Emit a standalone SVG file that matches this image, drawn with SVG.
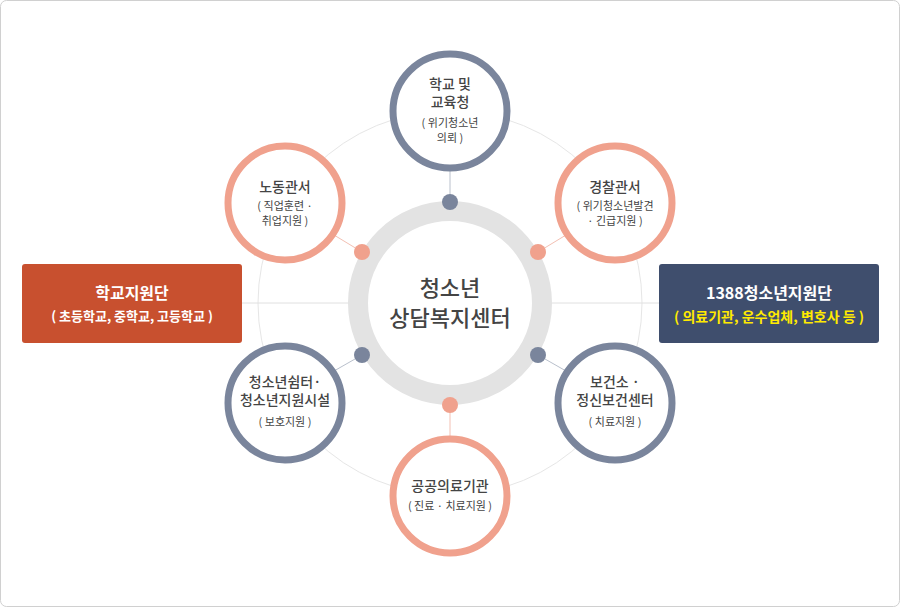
<svg xmlns="http://www.w3.org/2000/svg" width="900" height="607" viewBox="0 0 900 607">
<style>
text{font-family:"Noto Sans CJK KR","Noto Sans",sans-serif;text-anchor:middle;fill:#444}
.t{font-size:14px;font-weight:500}
.s{font-size:11px}
.g{fill:#fff;stroke:#7a859c;stroke-width:7}
.p{fill:#fff;stroke:#f0a18d;stroke-width:7}
.dg{fill:#7a859c}.dp{fill:#f0a18d}
</style>
<rect x="0.5" y="0.5" width="899" height="606" rx="6" fill="#fff" stroke="#d0d0d0"/>
<g id="connectors" fill="none">
<circle cx="450" cy="303" r="192" stroke="#e6e6e6" stroke-width="1"/>
<line x1="242" y1="303" x2="660" y2="303" stroke="#e0e0e0"/>
<line x1="450" y1="168" x2="450" y2="202" stroke="#b9c0cc"/>
<line x1="450" y1="405" x2="450" y2="439" stroke="#f3c0b3"/>
<line x1="362" y1="252" x2="334" y2="235" stroke="#f3c0b3"/>
<line x1="538" y1="252" x2="566" y2="235" stroke="#f3c0b3"/>
<line x1="362" y1="355" x2="334" y2="371" stroke="#b9c0cc"/>
<line x1="538" y1="355" x2="566" y2="371" stroke="#b9c0cc"/>
</g>
<g id="center">
<circle cx="450" cy="303" r="92" fill="#fff" stroke="#e3e3e3" stroke-width="20"/>
<text x="450" y="296" font-size="22" font-weight="500">청소년</text>
<text x="450" y="326" font-size="22" font-weight="500">상담복지센터</text>
</g>
<g id="dots">
<circle class="dg" cx="450" cy="202" r="8"/>
<circle class="dp" cx="362" cy="252" r="8"/>
<circle class="dp" cx="538" cy="252" r="8"/>
<circle class="dg" cx="362" cy="355" r="8"/>
<circle class="dg" cx="538" cy="355" r="8"/>
<circle class="dp" cx="450" cy="405" r="8"/>
</g>
<g id="n-top"><circle class="g" cx="450" cy="111" r="57"/>
<text class="t" x="450" y="89">학교 및</text><text class="t" x="450" y="107">교육청</text>
<text class="s" x="450" y="127">( 위기청소년</text><text class="s" x="450" y="142">의뢰 )</text></g>
<g id="n-ul"><circle class="p" cx="285" cy="203" r="57"/>
<text class="t" x="285" y="192">노동관서</text>
<text class="s" x="285" y="210">( 직업훈련 ·</text><text class="s" x="285" y="225">취업지원 )</text></g>
<g id="n-ur"><circle class="p" cx="615" cy="203" r="57"/>
<text class="t" x="615" y="192">경찰관서</text>
<text class="s" x="615" y="210">( 위기청소년발견</text><text class="s" x="615" y="225">· 긴급지원 )</text></g>
<g id="n-ll"><circle class="g" cx="285" cy="403" r="57"/>
<text class="t" x="285" y="387">청소년쉼터·</text><text class="t" x="285" y="405">청소년지원시설</text>
<text class="s" x="285" y="426">( 보호지원 )</text></g>
<g id="n-lr"><circle class="g" cx="615" cy="403" r="57"/>
<text class="t" x="615" y="387">보건소 ·</text><text class="t" x="615" y="405">정신보건센터</text>
<text class="s" x="615" y="426">( 치료지원 )</text></g>
<g id="n-bot"><circle class="p" cx="450" cy="496" r="57"/>
<text class="t" x="450" y="491">공공의료기관</text>
<text class="s" x="450" y="510">( 진료 · 치료지원 )</text></g>
<g id="box-left"><rect x="22" y="264" width="220" height="79" rx="3" fill="#c8502f"/>
<text x="132" y="299" font-size="16" font-weight="bold" style="fill:#fff">학교지원단</text>
<text x="132" y="321" font-size="13" font-weight="bold" style="fill:#fff">( 초등학교, 중학교, 고등학교 )</text></g>
<g id="box-right"><rect x="659" y="264" width="220" height="79" rx="3" fill="#3f4e6d"/>
<text x="769" y="299" font-size="16" font-weight="bold" style="fill:#fff">1388청소년지원단</text>
<text x="769" y="322" font-size="14" font-weight="bold" style="fill:#ffea00">( 의료기관, 운수업체, 변호사 등 )</text></g>
</svg>
